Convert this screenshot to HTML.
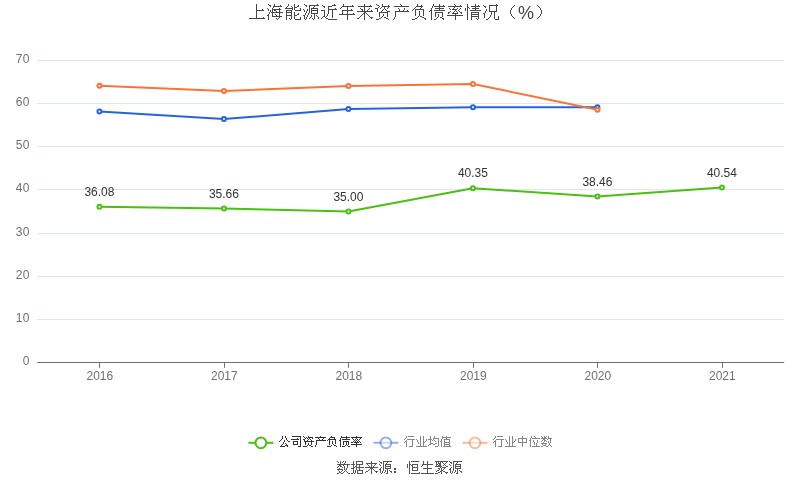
<!DOCTYPE html>
<html lang="zh"><head><meta charset="utf-8"><title>chart</title><style>html,body{margin:0;padding:0;background:#fff}body{width:800px;height:501px;overflow:hidden}</style></head><body>
<svg width="800" height="501" viewBox="0 0 800 501" style="display:block;will-change:transform;font-family:'Liberation Sans',sans-serif">
<title>上海能源近年来资产负债率情况（%）</title>
<desc>折线图：公司资产负债率、行业均值、行业中位数，2016-2021。数据来源：恒生聚源</desc>
<rect width="800" height="501" fill="#fff"/>
<path d="M37.2 60.5H784.2" stroke="#E0E6F1" stroke-width="1" fill="none"/>
<path d="M37.2 103.5H784.2" stroke="#E0E6F1" stroke-width="1" fill="none"/>
<path d="M37.2 146.5H784.2" stroke="#E0E6F1" stroke-width="1" fill="none"/>
<path d="M37.2 189.5H784.2" stroke="#E0E6F1" stroke-width="1" fill="none"/>
<path d="M37.2 233.5H784.2" stroke="#E0E6F1" stroke-width="1" fill="none"/>
<path d="M37.2 276.5H784.2" stroke="#E0E6F1" stroke-width="1" fill="none"/>
<path d="M37.2 319.5H784.2" stroke="#E0E6F1" stroke-width="1" fill="none"/>
<path d="M37.2 362.5H784.2" stroke="#6E7079" stroke-width="1" fill="none"/>
<path d="M99.5 362.5V367.8" stroke="#6E7079" stroke-width="1" fill="none"/>
<path d="M224.5 362.5V367.8" stroke="#6E7079" stroke-width="1" fill="none"/>
<path d="M348.5 362.5V367.8" stroke="#6E7079" stroke-width="1" fill="none"/>
<path d="M473.5 362.5V367.8" stroke="#6E7079" stroke-width="1" fill="none"/>
<path d="M597.5 362.5V367.8" stroke="#6E7079" stroke-width="1" fill="none"/>
<path d="M722.5 362.5V367.8" stroke="#6E7079" stroke-width="1" fill="none"/>
<text x="29.8" y="63.10" text-anchor="end" font-size="12" letter-spacing="0.3" fill="#6E7079">70</text>
<text x="29.8" y="106.10" text-anchor="end" font-size="12" letter-spacing="0.3" fill="#6E7079">60</text>
<text x="29.8" y="149.10" text-anchor="end" font-size="12" letter-spacing="0.3" fill="#6E7079">50</text>
<text x="29.8" y="192.10" text-anchor="end" font-size="12" letter-spacing="0.3" fill="#6E7079">40</text>
<text x="29.8" y="236.10" text-anchor="end" font-size="12" letter-spacing="0.3" fill="#6E7079">30</text>
<text x="29.8" y="279.10" text-anchor="end" font-size="12" letter-spacing="0.3" fill="#6E7079">20</text>
<text x="29.8" y="322.10" text-anchor="end" font-size="12" letter-spacing="0.3" fill="#6E7079">10</text>
<text x="29.8" y="365.10" text-anchor="end" font-size="12" letter-spacing="0.3" fill="#6E7079">0</text>
<text x="99.85" y="379.8" text-anchor="middle" font-size="12" fill="#6E7079">2016</text>
<text x="224.35" y="379.8" text-anchor="middle" font-size="12" fill="#6E7079">2017</text>
<text x="348.85" y="379.8" text-anchor="middle" font-size="12" fill="#6E7079">2018</text>
<text x="473.35" y="379.8" text-anchor="middle" font-size="12" fill="#6E7079">2019</text>
<text x="597.85" y="379.8" text-anchor="middle" font-size="12" fill="#6E7079">2020</text>
<text x="722.35" y="379.8" text-anchor="middle" font-size="12" fill="#6E7079">2021</text>
<path d="M99.45 206.74L223.95 208.55L348.45 211.40L472.95 188.32L597.45 196.47L721.95 187.50" stroke="#4AC012" stroke-width="2" fill="none" stroke-linejoin="bevel"/>
<circle cx="99.45" cy="206.74" r="2" fill="#fff" stroke="#4AC012" stroke-width="2"/>
<circle cx="223.95" cy="208.55" r="2" fill="#fff" stroke="#4AC012" stroke-width="2"/>
<circle cx="348.45" cy="211.40" r="2" fill="#fff" stroke="#4AC012" stroke-width="2"/>
<circle cx="472.95" cy="188.32" r="2" fill="#fff" stroke="#4AC012" stroke-width="2"/>
<circle cx="597.45" cy="196.47" r="2" fill="#fff" stroke="#4AC012" stroke-width="2"/>
<circle cx="721.95" cy="187.50" r="2" fill="#fff" stroke="#4AC012" stroke-width="2"/>
<path d="M99.45 111.50L223.95 119.10L348.45 108.90L472.95 107.20L597.45 107.30" stroke="#2564DF" stroke-width="2" fill="none" stroke-linejoin="bevel"/>
<circle cx="99.45" cy="111.50" r="2" fill="#fff" stroke="#2564DF" stroke-width="2"/>
<circle cx="223.95" cy="119.10" r="2" fill="#fff" stroke="#2564DF" stroke-width="2"/>
<circle cx="348.45" cy="108.90" r="2" fill="#fff" stroke="#2564DF" stroke-width="2"/>
<circle cx="472.95" cy="107.20" r="2" fill="#fff" stroke="#2564DF" stroke-width="2"/>
<circle cx="597.45" cy="107.30" r="2" fill="#fff" stroke="#2564DF" stroke-width="2"/>
<path d="M99.45 85.80L223.95 91.05L348.45 85.88L472.95 83.95L597.45 109.65" stroke="#F77538" stroke-width="2" fill="none" stroke-linejoin="bevel"/>
<circle cx="99.45" cy="85.80" r="2" fill="#fff" stroke="#F77538" stroke-width="2"/>
<circle cx="223.95" cy="91.05" r="2" fill="#fff" stroke="#F77538" stroke-width="2"/>
<circle cx="348.45" cy="85.88" r="2" fill="#fff" stroke="#F77538" stroke-width="2"/>
<circle cx="472.95" cy="83.95" r="2" fill="#fff" stroke="#F77538" stroke-width="2"/>
<circle cx="597.45" cy="109.65" r="2" fill="#fff" stroke="#F77538" stroke-width="2"/>
<text x="99.45" y="195.84" text-anchor="middle" font-size="12" fill="#333">36.08</text>
<text x="223.95" y="197.65" text-anchor="middle" font-size="12" fill="#333">35.66</text>
<text x="348.45" y="200.50" text-anchor="middle" font-size="12" fill="#333">35.00</text>
<text x="472.95" y="177.42" text-anchor="middle" font-size="12" fill="#333">40.35</text>
<text x="597.45" y="185.57" text-anchor="middle" font-size="12" fill="#333">38.46</text>
<text x="721.95" y="176.60" text-anchor="middle" font-size="12" fill="#333">40.54</text>
<path d="M256 4h1v1h-1zM256 5h1v1h-1zM256 6h1v1h-1zM256 7h1v1h-1zM256 8h1v1h-1zM256 9h1v1h-1zM262 9h1v1h-1zM256 10h8v1h-8zM256 11h1v1h-1zM256 12h1v1h-1zM256 13h1v1h-1zM256 14h1v1h-1zM256 15h1v1h-1zM256 16h1v1h-1zM256 17h1v1h-1zM263 17h1v1h-1zM249 18h16v1h-16zM268 4h1v1h-1zM274 4h1v1h-1zM269 5h2v1h-2zM274 5h1v1h-1zM280 5h1v1h-1zM270 6h1v1h-1zM273 6h9v1h-9zM273 7h1v1h-1zM267 8h1v1h-1zM272 8h1v1h-1zM279 8h1v1h-1zM268 9h1v1h-1zM272 9h9v1h-9zM268 10h1v1h-1zM270 10h1v1h-1zM272 10h1v1h-1zM274 10h2v1h-2zM279 10h1v1h-1zM270 11h1v1h-1zM272 11h1v1h-1zM276 11h1v1h-1zM279 11h1v1h-1zM269 12h1v1h-1zM271 12h12v1h-12zM269 13h1v1h-1zM272 13h1v1h-1zM279 13h1v1h-1zM268 14h1v1h-1zM272 14h1v1h-1zM275 14h1v1h-1zM279 14h1v1h-1zM267 15h2v1h-2zM272 15h1v1h-1zM276 15h1v1h-1zM279 15h1v1h-1zM268 16h1v1h-1zM272 16h10v1h-10zM268 17h1v1h-1zM279 17h1v1h-1zM268 18h1v1h-1zM276 18h1v1h-1zM278 18h1v1h-1zM268 19h1v1h-1zM277 19h1v1h-1zM288 4h1v1h-1zM294 4h1v1h-1zM288 5h1v1h-1zM294 5h1v1h-1zM298 5h1v1h-1zM287 6h1v1h-1zM291 6h1v1h-1zM294 6h1v1h-1zM297 6h2v1h-2zM286 7h1v1h-1zM292 7h1v1h-1zM294 7h3v1h-3zM285 8h8v1h-8zM294 8h1v1h-1zM300 8h1v1h-1zM292 9h1v1h-1zM294 9h1v1h-1zM300 9h1v1h-1zM286 10h6v1h-6zM295 10h6v1h-6zM286 11h1v1h-1zM291 11h1v1h-1zM286 12h6v1h-6zM294 12h1v1h-1zM286 13h1v1h-1zM291 13h1v1h-1zM294 13h1v1h-1zM298 13h1v1h-1zM286 14h1v1h-1zM291 14h1v1h-1zM294 14h1v1h-1zM297 14h2v1h-2zM286 15h6v1h-6zM294 15h3v1h-3zM286 16h1v1h-1zM291 16h1v1h-1zM294 16h1v1h-1zM286 17h1v1h-1zM291 17h1v1h-1zM294 17h1v1h-1zM300 17h1v1h-1zM286 18h1v1h-1zM289 18h1v1h-1zM291 18h1v1h-1zM294 18h1v1h-1zM300 18h1v1h-1zM286 19h1v1h-1zM290 19h1v1h-1zM295 19h6v1h-6zM304 4h1v1h-1zM317 4h1v1h-1zM305 5h2v1h-2zM309 5h10v1h-10zM306 6h1v1h-1zM309 6h1v1h-1zM314 6h1v1h-1zM309 7h1v1h-1zM313 7h1v1h-1zM309 8h1v1h-1zM311 8h7v1h-7zM303 9h1v1h-1zM307 9h1v1h-1zM309 9h1v1h-1zM311 9h1v1h-1zM317 9h1v1h-1zM304 10h1v1h-1zM307 10h1v1h-1zM309 10h1v1h-1zM311 10h7v1h-7zM304 11h1v1h-1zM306 11h1v1h-1zM309 11h1v1h-1zM311 11h1v1h-1zM317 11h1v1h-1zM306 12h1v1h-1zM309 12h1v1h-1zM311 12h1v1h-1zM317 12h1v1h-1zM305 13h1v1h-1zM308 13h1v1h-1zM311 13h7v1h-7zM305 14h1v1h-1zM308 14h1v1h-1zM314 14h1v1h-1zM303 15h2v1h-2zM307 15h1v1h-1zM311 15h1v1h-1zM314 15h1v1h-1zM316 15h1v1h-1zM304 16h1v1h-1zM307 16h1v1h-1zM311 16h1v1h-1zM314 16h1v1h-1zM317 16h1v1h-1zM304 17h1v1h-1zM306 17h1v1h-1zM310 17h1v1h-1zM314 17h1v1h-1zM318 17h1v1h-1zM304 18h1v1h-1zM306 18h1v1h-1zM309 18h1v1h-1zM312 18h1v1h-1zM314 18h1v1h-1zM318 18h1v1h-1zM305 19h1v1h-1zM313 19h1v1h-1zM334 4h1v1h-1zM322 5h1v1h-1zM332 5h4v1h-4zM323 6h2v1h-2zM328 6h4v1h-4zM324 7h1v1h-1zM328 7h1v1h-1zM328 8h1v1h-1zM335 8h1v1h-1zM328 9h9v1h-9zM321 10h4v1h-4zM328 10h1v1h-1zM332 10h1v1h-1zM324 11h1v1h-1zM328 11h1v1h-1zM332 11h1v1h-1zM324 12h1v1h-1zM328 12h1v1h-1zM332 12h1v1h-1zM324 13h1v1h-1zM328 13h1v1h-1zM332 13h1v1h-1zM324 14h1v1h-1zM327 14h1v1h-1zM332 14h1v1h-1zM324 15h1v1h-1zM327 15h1v1h-1zM332 15h1v1h-1zM323 16h2v1h-2zM326 16h1v1h-1zM332 16h1v1h-1zM322 17h1v1h-1zM325 17h1v1h-1zM332 17h1v1h-1zM321 18h1v1h-1zM326 18h2v1h-2zM328 19h9v1h-9zM343 4h1v1h-1zM343 5h1v1h-1zM352 5h1v1h-1zM342 6h12v1h-12zM341 7h1v1h-1zM347 7h1v1h-1zM340 8h1v1h-1zM347 8h1v1h-1zM347 9h1v1h-1zM351 9h1v1h-1zM342 10h11v1h-11zM342 11h1v1h-1zM347 11h1v1h-1zM342 12h1v1h-1zM347 12h1v1h-1zM342 13h1v1h-1zM347 13h1v1h-1zM353 13h1v1h-1zM339 14h16v1h-16zM347 15h1v1h-1zM347 16h1v1h-1zM347 17h1v1h-1zM347 18h1v1h-1zM347 19h1v1h-1zM364 4h1v1h-1zM364 5h1v1h-1zM370 5h1v1h-1zM358 6h14v1h-14zM364 7h1v1h-1zM360 8h1v1h-1zM364 8h1v1h-1zM369 8h1v1h-1zM361 9h2v1h-2zM364 9h1v1h-1zM368 9h1v1h-1zM362 10h1v1h-1zM364 10h1v1h-1zM367 10h1v1h-1zM371 10h1v1h-1zM357 11h16v1h-16zM364 12h2v1h-2zM363 13h2v1h-2zM366 13h1v1h-1zM362 14h1v1h-1zM364 14h1v1h-1zM367 14h1v1h-1zM361 15h1v1h-1zM364 15h1v1h-1zM368 15h1v1h-1zM360 16h1v1h-1zM364 16h1v1h-1zM369 16h1v1h-1zM359 17h1v1h-1zM364 17h1v1h-1zM370 17h3v1h-3zM357 18h2v1h-2zM364 18h1v1h-1zM371 18h1v1h-1zM364 19h1v1h-1zM376 4h1v1h-1zM382 4h1v1h-1zM377 5h2v1h-2zM382 5h1v1h-1zM388 5h1v1h-1zM379 6h1v1h-1zM382 6h8v1h-8zM378 7h1v1h-1zM381 7h1v1h-1zM384 7h1v1h-1zM388 7h1v1h-1zM375 8h3v1h-3zM380 8h1v1h-1zM384 8h1v1h-1zM387 8h1v1h-1zM377 9h1v1h-1zM383 9h1v1h-1zM385 9h1v1h-1zM377 10h1v1h-1zM382 10h1v1h-1zM386 10h1v1h-1zM377 11h1v1h-1zM381 11h1v1h-1zM387 11h3v1h-3zM379 12h9v1h-9zM379 13h1v1h-1zM387 13h1v1h-1zM379 14h1v1h-1zM383 14h1v1h-1zM387 14h1v1h-1zM379 15h1v1h-1zM383 15h1v1h-1zM387 15h1v1h-1zM379 16h1v1h-1zM382 16h1v1h-1zM387 16h1v1h-1zM381 17h1v1h-1zM384 17h2v1h-2zM379 18h2v1h-2zM386 18h2v1h-2zM376 19h3v1h-3zM388 19h1v1h-1zM400 4h1v1h-1zM401 5h1v1h-1zM394 6h15v1h-15zM398 8h1v1h-1zM404 8h1v1h-1zM399 9h1v1h-1zM404 9h1v1h-1zM399 10h1v1h-1zM403 10h1v1h-1zM407 10h1v1h-1zM395 11h14v1h-14zM395 12h1v1h-1zM395 13h1v1h-1zM395 14h1v1h-1zM395 15h1v1h-1zM395 16h1v1h-1zM394 17h1v1h-1zM394 18h1v1h-1zM393 19h1v1h-1zM417 4h1v1h-1zM417 5h1v1h-1zM421 5h1v1h-1zM416 6h7v1h-7zM415 7h1v1h-1zM421 7h1v1h-1zM414 8h1v1h-1zM420 8h1v1h-1zM413 9h1v1h-1zM415 9h9v1h-9zM412 10h1v1h-1zM415 10h1v1h-1zM423 10h1v1h-1zM415 11h1v1h-1zM419 11h1v1h-1zM423 11h1v1h-1zM415 12h1v1h-1zM419 12h1v1h-1zM423 12h1v1h-1zM415 13h1v1h-1zM419 13h1v1h-1zM423 13h1v1h-1zM415 14h1v1h-1zM419 14h1v1h-1zM423 14h1v1h-1zM415 15h1v1h-1zM419 15h1v1h-1zM423 15h1v1h-1zM418 16h1v1h-1zM420 16h2v1h-2zM417 17h1v1h-1zM422 17h2v1h-2zM415 18h2v1h-2zM424 18h2v1h-2zM412 19h3v1h-3zM425 19h1v1h-1zM433 4h1v1h-1zM439 4h1v1h-1zM433 5h1v1h-1zM439 5h1v1h-1zM443 5h1v1h-1zM432 6h1v1h-1zM434 6h11v1h-11zM432 7h1v1h-1zM439 7h1v1h-1zM431 8h1v1h-1zM435 8h9v1h-9zM431 9h1v1h-1zM439 9h1v1h-1zM430 10h2v1h-2zM434 10h11v1h-11zM429 11h1v1h-1zM431 11h1v1h-1zM431 12h1v1h-1zM435 12h8v1h-8zM431 13h1v1h-1zM435 13h1v1h-1zM442 13h1v1h-1zM431 14h1v1h-1zM435 14h1v1h-1zM438 14h1v1h-1zM442 14h1v1h-1zM431 15h1v1h-1zM435 15h1v1h-1zM438 15h1v1h-1zM442 15h1v1h-1zM431 16h1v1h-1zM435 16h1v1h-1zM438 16h1v1h-1zM442 16h1v1h-1zM431 17h1v1h-1zM437 17h1v1h-1zM440 17h2v1h-2zM431 18h1v1h-1zM436 18h1v1h-1zM442 18h2v1h-2zM431 19h1v1h-1zM434 19h2v1h-2zM443 19h1v1h-1zM454 4h1v1h-1zM455 5h1v1h-1zM460 5h1v1h-1zM448 6h14v1h-14zM454 7h1v1h-1zM449 8h1v1h-1zM453 8h1v1h-1zM457 8h1v1h-1zM460 8h1v1h-1zM450 9h1v1h-1zM452 9h5v1h-5zM459 9h1v1h-1zM455 10h1v1h-1zM458 10h1v1h-1zM450 11h1v1h-1zM454 11h1v1h-1zM456 11h1v1h-1zM459 11h1v1h-1zM448 12h2v1h-2zM453 12h1v1h-1zM457 12h1v1h-1zM460 12h2v1h-2zM448 13h1v1h-1zM452 13h6v1h-6zM461 13h1v1h-1zM455 14h1v1h-1zM447 15h16v1h-16zM455 16h1v1h-1zM455 17h1v1h-1zM455 18h1v1h-1zM455 19h1v1h-1zM467 4h1v1h-1zM475 4h1v1h-1zM467 5h1v1h-1zM475 5h1v1h-1zM478 5h1v1h-1zM467 6h1v1h-1zM471 6h9v1h-9zM467 7h2v1h-2zM475 7h1v1h-1zM465 8h1v1h-1zM467 8h1v1h-1zM469 8h1v1h-1zM472 8h7v1h-7zM465 9h1v1h-1zM467 9h1v1h-1zM475 9h1v1h-1zM465 10h1v1h-1zM467 10h1v1h-1zM470 10h11v1h-11zM467 11h1v1h-1zM467 12h1v1h-1zM471 12h8v1h-8zM467 13h1v1h-1zM471 13h1v1h-1zM478 13h1v1h-1zM467 14h1v1h-1zM471 14h8v1h-8zM467 15h1v1h-1zM471 15h1v1h-1zM478 15h1v1h-1zM467 16h1v1h-1zM471 16h8v1h-8zM467 17h1v1h-1zM471 17h1v1h-1zM478 17h1v1h-1zM467 18h1v1h-1zM471 18h1v1h-1zM476 18h1v1h-1zM478 18h1v1h-1zM467 19h1v1h-1zM471 19h1v1h-1zM477 19h1v1h-1zM496 4h1v1h-1zM483 5h1v1h-1zM489 5h9v1h-9zM484 6h2v1h-2zM489 6h1v1h-1zM496 6h1v1h-1zM485 7h1v1h-1zM489 7h1v1h-1zM496 7h1v1h-1zM489 8h1v1h-1zM496 8h1v1h-1zM486 9h1v1h-1zM489 9h1v1h-1zM496 9h1v1h-1zM486 10h1v1h-1zM489 10h1v1h-1zM496 10h1v1h-1zM485 11h1v1h-1zM489 11h8v1h-8zM485 12h1v1h-1zM491 12h1v1h-1zM494 12h1v1h-1zM483 13h2v1h-2zM491 13h1v1h-1zM494 13h1v1h-1zM484 14h1v1h-1zM491 14h1v1h-1zM494 14h1v1h-1zM484 15h1v1h-1zM490 15h1v1h-1zM494 15h1v1h-1zM484 16h1v1h-1zM490 16h1v1h-1zM494 16h1v1h-1zM498 16h1v1h-1zM484 17h1v1h-1zM489 17h1v1h-1zM494 17h1v1h-1zM498 17h1v1h-1zM488 18h1v1h-1zM494 18h1v1h-1zM498 18h1v1h-1zM486 19h2v1h-2zM495 19h4v1h-4zM514 5h1v1h-1zM513 6h1v1h-1zM512 7h1v1h-1zM511 8h1v1h-1zM511 9h1v1h-1zM510 10h1v1h-1zM510 11h1v1h-1zM510 12h1v1h-1zM510 13h1v1h-1zM511 14h1v1h-1zM511 15h1v1h-1zM512 16h1v1h-1zM513 17h1v1h-1zM514 18h1v1h-1z" fill="#464646" shape-rendering="crispEdges"/>
<text x="518" y="19" font-size="18" fill="#464646">%</text>
<path d="M537 5h1v1h-1zM538 6h1v1h-1zM539 7h1v1h-1zM540 8h1v1h-1zM540 9h1v1h-1zM541 10h1v1h-1zM541 11h1v1h-1zM541 12h1v1h-1zM541 13h1v1h-1zM540 14h1v1h-1zM540 15h1v1h-1zM539 16h1v1h-1zM538 17h1v1h-1zM537 18h1v1h-1z" fill="#464646" shape-rendering="crispEdges"/>
<path d="M337 461h1v1h-1zM340 461h1v1h-1zM343 461h1v1h-1zM345 461h1v1h-1zM338 462h1v1h-1zM340 462h1v1h-1zM342 462h1v1h-1zM345 462h1v1h-1zM340 463h1v1h-1zM344 463h1v1h-1zM337 464h13v1h-13zM339 465h2v1h-2zM343 465h1v1h-1zM347 465h1v1h-1zM338 466h1v1h-1zM340 466h2v1h-2zM344 466h1v1h-1zM347 466h1v1h-1zM337 467h1v1h-1zM342 467h1v1h-1zM344 467h1v1h-1zM347 467h1v1h-1zM339 468h1v1h-1zM344 468h1v1h-1zM346 468h1v1h-1zM337 469h6v1h-6zM344 469h1v1h-1zM346 469h1v1h-1zM338 470h1v1h-1zM342 470h1v1h-1zM345 470h1v1h-1zM339 471h1v1h-1zM341 471h1v1h-1zM344 471h1v1h-1zM346 471h1v1h-1zM339 472h2v1h-2zM343 472h1v1h-1zM347 472h1v1h-1zM337 473h2v1h-2zM341 473h2v1h-2zM348 473h2v1h-2zM353 461h1v1h-1zM356 461h7v1h-7zM353 462h1v1h-1zM356 462h1v1h-1zM362 462h1v1h-1zM353 463h1v1h-1zM356 463h1v1h-1zM362 463h1v1h-1zM351 464h4v1h-4zM356 464h7v1h-7zM353 465h1v1h-1zM356 465h1v1h-1zM359 465h1v1h-1zM353 466h1v1h-1zM355 466h2v1h-2zM359 466h1v1h-1zM353 467h2v1h-2zM356 467h8v1h-8zM351 468h3v1h-3zM356 468h1v1h-1zM359 468h1v1h-1zM353 469h1v1h-1zM356 469h1v1h-1zM359 469h1v1h-1zM353 470h1v1h-1zM355 470h1v1h-1zM357 470h6v1h-6zM353 471h1v1h-1zM355 471h1v1h-1zM357 471h1v1h-1zM362 471h1v1h-1zM353 472h1v1h-1zM355 472h1v1h-1zM357 472h1v1h-1zM362 472h1v1h-1zM351 473h2v1h-2zM354 473h1v1h-1zM357 473h6v1h-6zM371 461h1v1h-1zM371 462h1v1h-1zM366 463h11v1h-11zM367 464h1v1h-1zM371 464h1v1h-1zM375 464h1v1h-1zM368 465h1v1h-1zM371 465h1v1h-1zM374 465h1v1h-1zM369 466h1v1h-1zM371 466h1v1h-1zM373 466h1v1h-1zM365 467h13v1h-13zM370 468h3v1h-3zM369 469h1v1h-1zM371 469h1v1h-1zM373 469h1v1h-1zM368 470h1v1h-1zM371 470h1v1h-1zM374 470h1v1h-1zM366 471h2v1h-2zM371 471h1v1h-1zM375 471h3v1h-3zM365 472h1v1h-1zM371 472h1v1h-1zM376 472h1v1h-1zM371 473h1v1h-1zM379 461h1v1h-1zM383 461h9v1h-9zM380 462h2v1h-2zM383 462h1v1h-1zM387 462h1v1h-1zM381 463h1v1h-1zM383 463h1v1h-1zM386 463h1v1h-1zM379 464h1v1h-1zM383 464h1v1h-1zM385 464h6v1h-6zM380 465h1v1h-1zM383 465h1v1h-1zM385 465h1v1h-1zM390 465h1v1h-1zM383 466h1v1h-1zM385 466h6v1h-6zM381 467h1v1h-1zM383 467h1v1h-1zM385 467h1v1h-1zM390 467h1v1h-1zM380 468h1v1h-1zM383 468h1v1h-1zM385 468h6v1h-6zM379 469h2v1h-2zM383 469h1v1h-1zM387 469h1v1h-1zM380 470h1v1h-1zM383 470h1v1h-1zM385 470h1v1h-1zM387 470h1v1h-1zM389 470h1v1h-1zM380 471h1v1h-1zM382 471h1v1h-1zM385 471h1v1h-1zM387 471h1v1h-1zM390 471h2v1h-2zM380 472h1v1h-1zM382 472h1v1h-1zM384 472h1v1h-1zM387 472h1v1h-1zM391 472h1v1h-1zM381 473h1v1h-1zM386 473h2v1h-2zM394 468h2v1h-2zM394 469h2v1h-2zM394 471h2v1h-2zM394 472h2v1h-2zM409 461h1v1h-1zM411 461h8v1h-8zM409 462h1v1h-1zM409 463h1v1h-1zM407 464h1v1h-1zM409 464h2v1h-2zM412 464h6v1h-6zM407 465h1v1h-1zM409 465h1v1h-1zM411 465h2v1h-2zM417 465h1v1h-1zM407 466h1v1h-1zM409 466h1v1h-1zM412 466h1v1h-1zM417 466h1v1h-1zM407 467h1v1h-1zM409 467h1v1h-1zM412 467h6v1h-6zM409 468h1v1h-1zM412 468h1v1h-1zM417 468h1v1h-1zM409 469h1v1h-1zM412 469h1v1h-1zM417 469h1v1h-1zM409 470h1v1h-1zM412 470h6v1h-6zM409 471h1v1h-1zM409 472h1v1h-1zM419 472h1v1h-1zM409 473h1v1h-1zM411 473h9v1h-9zM423 461h1v1h-1zM427 461h1v1h-1zM423 462h1v1h-1zM427 462h1v1h-1zM423 463h1v1h-1zM427 463h1v1h-1zM422 464h11v1h-11zM422 465h1v1h-1zM427 465h1v1h-1zM421 466h1v1h-1zM427 466h1v1h-1zM427 467h1v1h-1zM423 468h9v1h-9zM427 469h1v1h-1zM427 470h1v1h-1zM427 471h1v1h-1zM427 472h1v1h-1zM421 473h13v1h-13zM435 461h13v1h-13zM436 462h1v1h-1zM438 462h1v1h-1zM440 462h1v1h-1zM442 462h1v1h-1zM446 462h1v1h-1zM436 463h1v1h-1zM438 463h3v1h-3zM443 463h1v1h-1zM445 463h1v1h-1zM436 464h2v1h-2zM439 464h2v1h-2zM444 464h1v1h-1zM436 465h1v1h-1zM438 465h3v1h-3zM443 465h1v1h-1zM445 465h1v1h-1zM435 466h7v1h-7zM446 466h2v1h-2zM440 467h1v1h-1zM442 467h4v1h-4zM438 468h2v1h-2zM441 468h1v1h-1zM444 468h1v1h-1zM439 469h1v1h-1zM441 469h1v1h-1zM443 469h1v1h-1zM437 470h2v1h-2zM441 470h2v1h-2zM436 471h1v1h-1zM440 471h2v1h-2zM443 471h2v1h-2zM438 472h2v1h-2zM441 472h1v1h-1zM445 472h3v1h-3zM435 473h3v1h-3zM441 473h1v1h-1zM446 473h1v1h-1zM449 461h1v1h-1zM453 461h9v1h-9zM450 462h2v1h-2zM453 462h1v1h-1zM457 462h1v1h-1zM451 463h1v1h-1zM453 463h1v1h-1zM456 463h1v1h-1zM449 464h1v1h-1zM453 464h1v1h-1zM455 464h6v1h-6zM450 465h1v1h-1zM453 465h1v1h-1zM455 465h1v1h-1zM460 465h1v1h-1zM453 466h1v1h-1zM455 466h6v1h-6zM451 467h1v1h-1zM453 467h1v1h-1zM455 467h1v1h-1zM460 467h1v1h-1zM450 468h1v1h-1zM453 468h1v1h-1zM455 468h6v1h-6zM449 469h2v1h-2zM453 469h1v1h-1zM457 469h1v1h-1zM450 470h1v1h-1zM453 470h1v1h-1zM455 470h1v1h-1zM457 470h1v1h-1zM459 470h1v1h-1zM450 471h1v1h-1zM452 471h1v1h-1zM455 471h1v1h-1zM457 471h1v1h-1zM460 471h2v1h-2zM450 472h1v1h-1zM452 472h1v1h-1zM454 472h1v1h-1zM457 472h1v1h-1zM461 472h1v1h-1zM451 473h1v1h-1zM456 473h2v1h-2z" fill="#555" shape-rendering="crispEdges"/>
<path d="M248.4 442.8H273.4" stroke="#4AC012" stroke-width="2" fill="none"/><circle cx="260.9" cy="442.8" r="5.4" fill="#fff" stroke="#4AC012" stroke-width="2"/>
<path d="M282 436h1v1h-1zM285 436h1v1h-1zM282 437h1v1h-1zM285 437h1v1h-1zM282 438h1v1h-1zM286 438h1v1h-1zM281 439h1v1h-1zM286 439h1v1h-1zM280 440h1v1h-1zM284 440h1v1h-1zM287 440h1v1h-1zM279 441h1v1h-1zM284 441h1v1h-1zM288 441h2v1h-2zM283 442h1v1h-1zM283 443h1v1h-1zM285 443h1v1h-1zM282 444h1v1h-1zM286 444h1v1h-1zM281 445h1v1h-1zM285 445h3v1h-3zM280 446h5v1h-5zM287 446h1v1h-1zM292 436h9v1h-9zM300 437h1v1h-1zM297 438h1v1h-1zM300 438h1v1h-1zM291 439h8v1h-8zM300 439h1v1h-1zM300 440h1v1h-1zM293 441h5v1h-5zM300 441h1v1h-1zM293 442h1v1h-1zM297 442h1v1h-1zM300 442h1v1h-1zM293 443h1v1h-1zM297 443h1v1h-1zM300 443h1v1h-1zM293 444h5v1h-5zM300 444h1v1h-1zM300 445h1v1h-1zM298 446h3v1h-3zM303 436h1v1h-1zM308 436h1v1h-1zM304 437h1v1h-1zM306 437h1v1h-1zM308 437h5v1h-5zM305 438h1v1h-1zM307 438h1v1h-1zM309 438h1v1h-1zM312 438h1v1h-1zM303 439h2v1h-2zM308 439h1v1h-1zM310 439h1v1h-1zM304 440h1v1h-1zM307 440h1v1h-1zM311 440h1v1h-1zM304 441h10v1h-10zM305 442h1v1h-1zM311 442h1v1h-1zM305 443h1v1h-1zM308 443h1v1h-1zM311 443h1v1h-1zM305 444h1v1h-1zM308 444h1v1h-1zM311 444h1v1h-1zM307 445h1v1h-1zM309 445h2v1h-2zM303 446h4v1h-4zM311 446h2v1h-2zM320 436h1v1h-1zM315 437h11v1h-11zM318 438h1v1h-1zM323 438h1v1h-1zM319 439h1v1h-1zM322 439h1v1h-1zM316 440h10v1h-10zM316 441h1v1h-1zM316 442h1v1h-1zM316 443h1v1h-1zM316 444h1v1h-1zM315 445h1v1h-1zM315 446h1v1h-1zM331 436h1v1h-1zM330 437h5v1h-5zM329 438h1v1h-1zM334 438h1v1h-1zM328 439h8v1h-8zM327 440h1v1h-1zM329 440h1v1h-1zM335 440h1v1h-1zM329 441h1v1h-1zM332 441h1v1h-1zM335 441h1v1h-1zM329 442h1v1h-1zM332 442h1v1h-1zM335 442h1v1h-1zM329 443h1v1h-1zM332 443h1v1h-1zM335 443h1v1h-1zM329 444h1v1h-1zM333 444h1v1h-1zM331 445h1v1h-1zM334 445h2v1h-2zM327 446h4v1h-4zM336 446h1v1h-1zM341 436h1v1h-1zM346 436h1v1h-1zM341 437h9v1h-9zM340 438h1v1h-1zM346 438h1v1h-1zM340 439h1v1h-1zM342 439h8v1h-8zM339 440h2v1h-2zM340 441h1v1h-1zM343 441h6v1h-6zM340 442h1v1h-1zM343 442h1v1h-1zM346 442h1v1h-1zM348 442h1v1h-1zM340 443h1v1h-1zM343 443h1v1h-1zM346 443h1v1h-1zM348 443h1v1h-1zM340 444h1v1h-1zM343 444h1v1h-1zM346 444h1v1h-1zM348 444h1v1h-1zM340 445h1v1h-1zM345 445h1v1h-1zM347 445h1v1h-1zM340 446h1v1h-1zM342 446h3v1h-3zM348 446h2v1h-2zM356 436h1v1h-1zM351 437h11v1h-11zM352 438h1v1h-1zM356 438h1v1h-1zM360 438h1v1h-1zM353 439h1v1h-1zM355 439h1v1h-1zM357 439h1v1h-1zM359 439h1v1h-1zM354 440h1v1h-1zM356 440h1v1h-1zM358 440h1v1h-1zM353 441h1v1h-1zM355 441h1v1h-1zM357 441h1v1h-1zM359 441h1v1h-1zM351 442h2v1h-2zM354 442h5v1h-5zM360 442h1v1h-1zM356 443h1v1h-1zM351 444h11v1h-11zM356 445h1v1h-1zM356 446h1v1h-1z" fill="#333" shape-rendering="crispEdges"/>
<path d="M373.4 442.8H398.4" stroke="#2564DF" stroke-width="2" fill="none" opacity="0.5"/><circle cx="385.9" cy="442.8" r="5.4" fill="#fff" fill-opacity="0.5" stroke="#2564DF" stroke-opacity="0.5" stroke-width="2"/>
<path d="M406 436h1v1h-1zM408 436h6v1h-6zM406 437h1v1h-1zM405 438h1v1h-1zM404 439h1v1h-1zM407 439h8v1h-8zM406 440h1v1h-1zM412 440h1v1h-1zM405 441h2v1h-2zM412 441h1v1h-1zM404 442h1v1h-1zM406 442h1v1h-1zM412 442h1v1h-1zM406 443h1v1h-1zM412 443h1v1h-1zM406 444h1v1h-1zM412 444h1v1h-1zM406 445h1v1h-1zM412 445h1v1h-1zM406 446h1v1h-1zM409 446h4v1h-4zM420 436h1v1h-1zM423 436h1v1h-1zM420 437h1v1h-1zM423 437h1v1h-1zM420 438h1v1h-1zM423 438h1v1h-1zM416 439h1v1h-1zM420 439h1v1h-1zM423 439h1v1h-1zM426 439h1v1h-1zM417 440h1v1h-1zM420 440h1v1h-1zM423 440h1v1h-1zM426 440h1v1h-1zM417 441h1v1h-1zM420 441h1v1h-1zM423 441h1v1h-1zM425 441h1v1h-1zM418 442h1v1h-1zM420 442h1v1h-1zM423 442h2v1h-2zM418 443h1v1h-1zM420 443h1v1h-1zM423 443h1v1h-1zM420 444h1v1h-1zM423 444h1v1h-1zM420 445h1v1h-1zM423 445h1v1h-1zM416 446h11v1h-11zM430 436h1v1h-1zM434 436h1v1h-1zM430 437h1v1h-1zM434 437h1v1h-1zM430 438h1v1h-1zM433 438h6v1h-6zM428 439h4v1h-4zM433 439h1v1h-1zM438 439h1v1h-1zM430 440h1v1h-1zM432 440h1v1h-1zM434 440h1v1h-1zM438 440h1v1h-1zM430 441h1v1h-1zM435 441h1v1h-1zM438 441h1v1h-1zM430 442h1v1h-1zM438 442h1v1h-1zM430 443h3v1h-3zM435 443h2v1h-2zM438 443h1v1h-1zM429 444h2v1h-2zM433 444h2v1h-2zM438 444h1v1h-1zM428 445h1v1h-1zM438 445h1v1h-1zM435 446h3v1h-3zM442 436h1v1h-1zM446 436h1v1h-1zM442 437h9v1h-9zM442 438h1v1h-1zM446 438h1v1h-1zM441 439h1v1h-1zM444 439h6v1h-6zM441 440h1v1h-1zM444 440h1v1h-1zM449 440h1v1h-1zM440 441h2v1h-2zM444 441h1v1h-1zM449 441h1v1h-1zM441 442h1v1h-1zM444 442h6v1h-6zM441 443h1v1h-1zM444 443h1v1h-1zM449 443h1v1h-1zM441 444h1v1h-1zM444 444h6v1h-6zM441 445h1v1h-1zM444 445h1v1h-1zM449 445h1v1h-1zM441 446h1v1h-1zM443 446h8v1h-8z" fill="#868686" shape-rendering="crispEdges"/>
<path d="M462.5 442.8H487.5" stroke="#F77538" stroke-width="2" fill="none" opacity="0.5"/><circle cx="475.0" cy="442.8" r="5.4" fill="#fff" fill-opacity="0.5" stroke="#F77538" stroke-opacity="0.5" stroke-width="2"/>
<path d="M495 436h1v1h-1zM497 436h6v1h-6zM495 437h1v1h-1zM494 438h1v1h-1zM493 439h1v1h-1zM496 439h8v1h-8zM495 440h1v1h-1zM501 440h1v1h-1zM494 441h2v1h-2zM501 441h1v1h-1zM493 442h1v1h-1zM495 442h1v1h-1zM501 442h1v1h-1zM495 443h1v1h-1zM501 443h1v1h-1zM495 444h1v1h-1zM501 444h1v1h-1zM495 445h1v1h-1zM501 445h1v1h-1zM495 446h1v1h-1zM498 446h4v1h-4zM509 436h1v1h-1zM512 436h1v1h-1zM509 437h1v1h-1zM512 437h1v1h-1zM509 438h1v1h-1zM512 438h1v1h-1zM505 439h1v1h-1zM509 439h1v1h-1zM512 439h1v1h-1zM515 439h1v1h-1zM506 440h1v1h-1zM509 440h1v1h-1zM512 440h1v1h-1zM515 440h1v1h-1zM506 441h1v1h-1zM509 441h1v1h-1zM512 441h1v1h-1zM514 441h1v1h-1zM507 442h1v1h-1zM509 442h1v1h-1zM512 442h2v1h-2zM507 443h1v1h-1zM509 443h1v1h-1zM512 443h1v1h-1zM509 444h1v1h-1zM512 444h1v1h-1zM509 445h1v1h-1zM512 445h1v1h-1zM505 446h11v1h-11zM522 436h1v1h-1zM522 437h1v1h-1zM518 438h9v1h-9zM518 439h1v1h-1zM522 439h1v1h-1zM526 439h1v1h-1zM518 440h1v1h-1zM522 440h1v1h-1zM526 440h1v1h-1zM518 441h1v1h-1zM522 441h1v1h-1zM526 441h1v1h-1zM518 442h9v1h-9zM522 443h1v1h-1zM522 444h1v1h-1zM522 445h1v1h-1zM522 446h1v1h-1zM531 436h1v1h-1zM534 436h1v1h-1zM531 437h1v1h-1zM535 437h1v1h-1zM530 438h1v1h-1zM532 438h8v1h-8zM530 439h1v1h-1zM529 440h2v1h-2zM533 440h1v1h-1zM537 440h1v1h-1zM530 441h1v1h-1zM533 441h1v1h-1zM537 441h1v1h-1zM530 442h1v1h-1zM534 442h1v1h-1zM537 442h1v1h-1zM530 443h1v1h-1zM534 443h1v1h-1zM536 443h1v1h-1zM530 444h1v1h-1zM534 444h1v1h-1zM536 444h1v1h-1zM530 445h1v1h-1zM536 445h1v1h-1zM530 446h1v1h-1zM532 446h8v1h-8zM541 436h1v1h-1zM544 436h1v1h-1zM546 436h1v1h-1zM548 436h1v1h-1zM542 437h1v1h-1zM544 437h2v1h-2zM548 437h1v1h-1zM541 438h6v1h-6zM548 438h4v1h-4zM543 439h2v1h-2zM547 439h1v1h-1zM550 439h1v1h-1zM542 440h1v1h-1zM544 440h2v1h-2zM550 440h1v1h-1zM541 441h1v1h-1zM544 441h1v1h-1zM546 441h1v1h-1zM548 441h1v1h-1zM550 441h1v1h-1zM543 442h1v1h-1zM548 442h1v1h-1zM550 442h1v1h-1zM541 443h6v1h-6zM549 443h1v1h-1zM542 444h1v1h-1zM545 444h1v1h-1zM549 444h1v1h-1zM543 445h3v1h-3zM548 445h1v1h-1zM550 445h1v1h-1zM541 446h2v1h-2zM546 446h2v1h-2zM551 446h1v1h-1z" fill="#868686" shape-rendering="crispEdges"/>
</svg>
</body></html>
